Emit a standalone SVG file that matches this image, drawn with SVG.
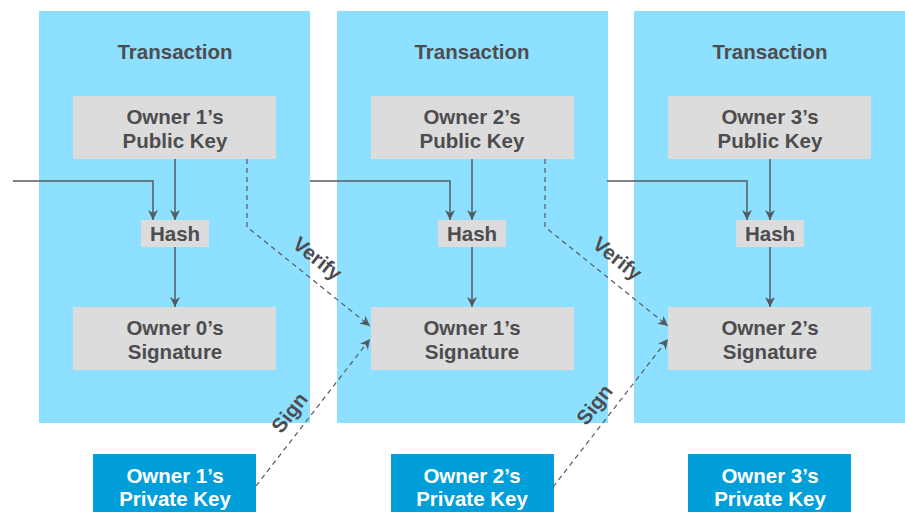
<svg xmlns="http://www.w3.org/2000/svg" width="905" height="513" viewBox="0 0 905 513">
<defs>
<marker id="ah" viewBox="0 0 10 10" refX="10" refY="5" markerWidth="10" markerHeight="10" markerUnits="userSpaceOnUse" orient="auto">
<path d="M0,0 L10,5 L0,10 L3,5 z" fill="#555A60"/>
</marker>
<style>
.panel{fill:#8DE0FF}
.box{fill:#DCDCDC}
.pk{fill:#009FDA}
.t{font-family:"Liberation Sans",Arial,sans-serif;font-weight:bold;font-size:20.5px;fill:#4D4D4F;text-anchor:middle}
.w{fill:#FFFFFF}
.ln{fill:none;stroke:#555A60;stroke-width:1.5;marker-end:url(#ah)}
.dl{fill:none;stroke:#555A60;stroke-width:1.2;stroke-dasharray:5 4;marker-end:url(#ah)}
</style>
</defs>
<rect width="905" height="513" fill="#FFFFFF"/>

<g id="tx1">
<rect class="panel" x="39" y="11" width="271" height="412"/>
<text class="t" x="175" y="59">Transaction</text>
</g>
<g id="tx2">
<rect class="panel" x="337" y="11" width="271" height="412"/>
<text class="t" x="472" y="59">Transaction</text>
</g>
<g id="tx3">
<rect class="panel" x="634" y="11" width="271" height="412"/>
<text class="t" x="770" y="59">Transaction</text>
</g>

<g id="pub1"><rect class="box" x="73" y="96" width="203" height="63"/><text class="t" x="175" y="124">Owner 1’s</text><text class="t" x="175" y="148">Public Key</text></g>
<g id="pub2"><rect class="box" x="371" y="96" width="203" height="63"/><text class="t" x="472" y="124">Owner 2’s</text><text class="t" x="472" y="148">Public Key</text></g>
<g id="pub3"><rect class="box" x="668" y="96" width="203" height="63"/><text class="t" x="770" y="124">Owner 3’s</text><text class="t" x="770" y="148">Public Key</text></g>

<g id="hash1"><rect class="box" x="141" y="220" width="68" height="27"/><text class="t" x="175" y="241">Hash</text></g>
<g id="hash2"><rect class="box" x="438" y="220" width="68" height="27"/><text class="t" x="472" y="241">Hash</text></g>
<g id="hash3"><rect class="box" x="736" y="220" width="68" height="27"/><text class="t" x="770" y="241">Hash</text></g>

<g id="sig0"><rect class="box" x="73" y="307" width="203" height="63"/><text class="t" x="175" y="335">Owner 0’s</text><text class="t" x="175" y="359">Signature</text></g>
<g id="sig1"><rect class="box" x="371" y="307" width="203" height="63"/><text class="t" x="472" y="335">Owner 1’s</text><text class="t" x="472" y="359">Signature</text></g>
<g id="sig2"><rect class="box" x="668" y="307" width="203" height="63"/><text class="t" x="770" y="335">Owner 2’s</text><text class="t" x="770" y="359">Signature</text></g>

<g id="priv1"><rect class="pk" x="93" y="454" width="163" height="58"/><text class="t w" x="175" y="483">Owner 1’s</text><text class="t w" x="175" y="506">Private Key</text></g>
<g id="priv2"><rect class="pk" x="391" y="454" width="163" height="58"/><text class="t w" x="472" y="483">Owner 2’s</text><text class="t w" x="472" y="506">Private Key</text></g>
<g id="priv3"><rect class="pk" x="688" y="454" width="163" height="58"/><text class="t w" x="770" y="483">Owner 3’s</text><text class="t w" x="770" y="506">Private Key</text></g>

<g id="connectors">
<path class="ln" d="M13,181 H153 V220"/>
<path class="ln" d="M175,159 V220"/>
<path class="ln" d="M175,247 V307"/>
<path class="ln" d="M310,181 H450 V220"/>
<path class="ln" d="M472,159 V220"/>
<path class="ln" d="M472,247 V307"/>
<path class="ln" d="M607,181 H747 V220"/>
<path class="ln" d="M770,159 V220"/>
<path class="ln" d="M770,247 V307"/>
<path class="dl" d="M247,159 V227 L370,326"/>
<path class="dl" d="M545,159 V227 L668,326"/>
<path class="dl" d="M256,486 L370,339"/>
<path class="dl" d="M553,487 L668,339"/>
<text class="t" transform="translate(313,264) rotate(38.5)">Verify</text>
<text class="t" transform="translate(613,264) rotate(38.5)">Verify</text>
<text class="t" transform="translate(295,417) rotate(-52)">Sign</text>
<text class="t" transform="translate(600,409) rotate(-52)">Sign</text>
</g>
</svg>
